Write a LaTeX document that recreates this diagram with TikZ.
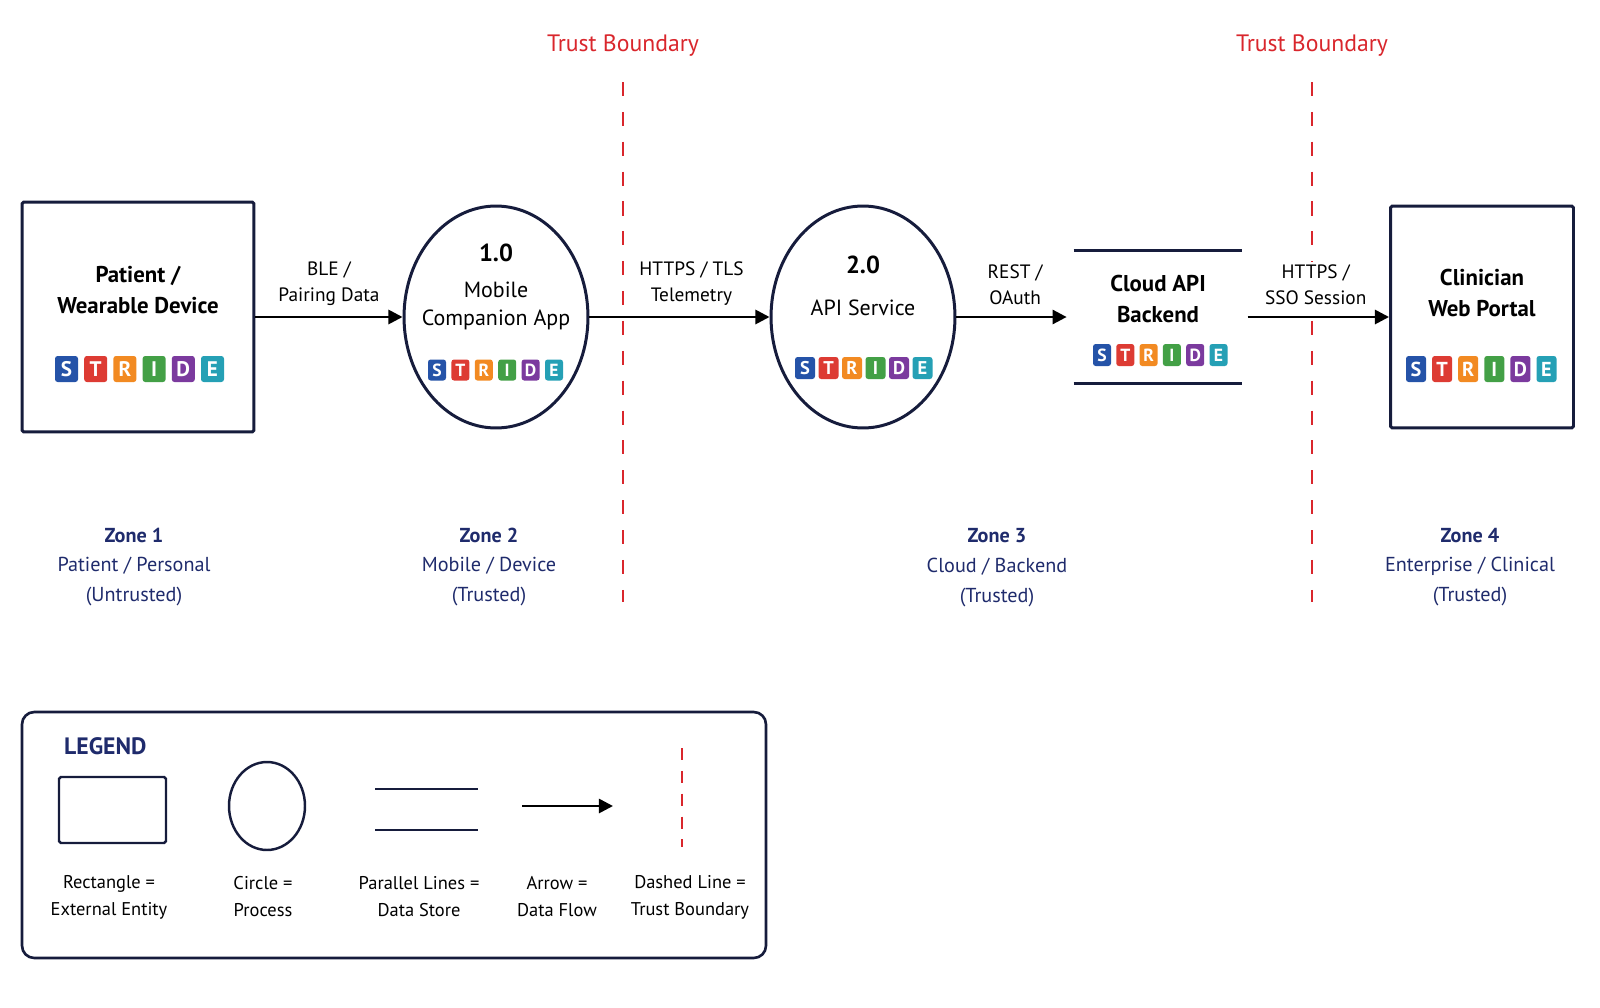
\documentclass[tikz,border=0pt]{standalone}
\usepackage{fontspec}
\setmainfont{PT Sans}
\usetikzlibrary{arrows.meta,shapes.geometric,positioning}

\definecolor{ink}{HTML}{161C3C}
\definecolor{zoneblue}{HTML}{1F2B6C}
\definecolor{trustred}{HTML}{D9262C}
\definecolor{strideS}{HTML}{2553A8}
\definecolor{strideT}{HTML}{DD3B33}
\definecolor{strideR}{HTML}{F28A22}
\definecolor{strideI}{HTML}{43A046}
\definecolor{strideD}{HTML}{7B3A9E}
\definecolor{strideE}{HTML}{25A0B5}

\tikzset{
  entity/.style={draw=ink,line width=1.7pt,rounded corners=1pt},
  process/.style={ellipse,draw=ink,line width=1.7pt,minimum width=3.68cm,minimum height=4.44cm},
  datastore/.style={minimum width=3.36cm,minimum height=2.64cm,inner sep=0pt},
  flow/.style={-{Triangle[length=8pt,width=8pt]},line width=1.5pt,black},
  flowlabel/.style={above=4pt,align=center,fill=white,inner sep=2pt,font=\fontsize{11}{14.8}\selectfont},
  title/.style={align=center,font=\bfseries\fontsize{13}{17.6}\selectfont},
  ptitle/.style={align=center,font=\fontsize{12.5}{16}\selectfont},
  pnum/.style={font=\bfseries\fontsize{14}{16}\selectfont},
  boundary/.style={trustred,line width=1.2pt,dash pattern=on 8pt off 9pt},
  zonetext/.style={align=center,text=zoneblue,font=\fontsize{11.5}{17}\selectfont},
  legendtext/.style={align=center,font=\fontsize{10.5}{15.4}\selectfont},
  badge/.style={rounded corners=1.5pt,text=white,inner sep=0pt},
}

% #1 prefix, #2 x of first badge, #3 y, #4 pitch, #5 width, #6 height, #7 font size (all px but #7)
\newcommand{\stridebar}[7]{%
  \foreach \ltr/\col [count=\k from 0] in {S/strideS,T/strideT,R/strideR,I/strideI,D/strideD,E/strideE}
    \node[badge,fill=\col,minimum width=#5*0.02cm,minimum height=#6*0.02cm,
      font=\bfseries\fontsize{#7}{#7}\selectfont] (#1-\ltr) at ({#2+\k*#4},#3) {\ltr};
}

\begin{document}
\begin{tikzpicture}[x=0.02cm,y=-0.02cm]
  \useasboundingbox (0,0) rectangle (1600,1008);

  % trust boundaries
  \foreach \bx/\bn in {623/tb1,1312/tb2}{
    \coordinate (\bn-top) at (\bx,82);
    \coordinate (\bn-bot) at (\bx,602);
    \draw[boundary] (\bn-top) -- (\bn-bot);
    \node[text=trustred,font=\fontsize{13.5}{16}\selectfont] (\bn-lbl) at (\bx,46) {Trust Boundary};
  }

  % external entities, processes, store
  \node[entity,minimum width=4.64cm,minimum height=4.6cm] (patient) at (138,317) {};
  \node[title] (patient-txt) at (138,290) {Patient /\\Wearable Device};
  \stridebar{patient}{66.5}{369}{29.2}{23}{26}{12}

  \node[process] (app) at (496,317) {};
  \node[pnum] (app-num) at (496,253) {1.0};
  \node[ptitle] (app-txt) at (496,306) {Mobile\\Companion App};
  \stridebar{app}{437}{370}{23.4}{18}{21}{10}

  \node[process] (api) at (863,317) {};
  \node[pnum] (api-num) at (863,265) {2.0};
  \node[ptitle] (api-txt) at (863,308) {API Service};
  \stridebar{api}{805}{368}{23.5}{20}{22}{10.5}

  \node[datastore] (cloud) at (1158,317) {};
  \draw[ink,line width=1.7pt] (cloud.north west) -- (cloud.north east);
  \draw[ink,line width=1.7pt] (cloud.south west) -- (cloud.south east);
  \node[title] (cloud-txt) at (1158,299) {Cloud API\\Backend};
  \stridebar{cloud}{1102}{355}{23.3}{18}{22}{10}

  \node[entity,minimum width=3.66cm,minimum height=4.44cm] (portal) at (1482,317) {};
  \node[title] (portal-txt) at (1482,293) {Clinician\\Web Portal};
  \stridebar{portal}{1416}{369}{26.1}{20}{26}{11.5}

  % data flows
  \draw[flow] (patient) -- (app) node[midway,flowlabel] (lbl-ble) {BLE /\\Pairing Data};
  \draw[flow] (app) -- (api) node[midway,flowlabel,xshift=12*0.02cm] (lbl-tls) {HTTPS / TLS\\Telemetry};
  \draw[flow,shorten >=4pt] (api) -- (cloud) node[midway,flowlabel] (lbl-rest) {REST /\\OAuth};
  \draw[flow,shorten <=3pt] (cloud) -- (portal) node[midway,flowlabel] (lbl-sso) {HTTPS /\\SSO Session};

  % zones
  \node[zonetext] (zone1) at (134,567) {\textbf{Zone 1}\\Patient / Personal\\(Untrusted)};
  \node[zonetext] (zone2) at (489,567) {\textbf{Zone 2}\\Mobile / Device\\(Trusted)};
  \node[zonetext] (zone3) at (997,568) {\textbf{Zone 3}\\Cloud / Backend\\(Trusted)};
  \node[zonetext] (zone4) at (1470,567) {\textbf{Zone 4}\\Enterprise / Clinical\\(Trusted)};

  % legend
  \draw[ink,line width=1.5pt,rounded corners=7pt] (22,712) rectangle (766,958);
  \node[anchor=west,text=zoneblue,font=\bfseries\fontsize{13.5}{16}\selectfont] (legend) at (58,746) {LEGEND};
  \node[entity,line width=1.4pt,minimum width=2.14cm,minimum height=1.32cm] (lg-rect) at (112.5,810) {};
  \node[process,line width=1.4pt,minimum width=1.52cm,minimum height=1.76cm] (lg-proc) at (267,806) {};
  \draw[ink,line width=1.4pt] (375,789) -- (478,789);
  \draw[ink,line width=1.4pt] (375,830) -- (478,830);
  \coordinate (lg-from) at (522,806);
  \coordinate (lg-to) at (613,806);
  \draw[flow] (lg-from) -- (lg-to);
  \coordinate (lg-top) at (682,748);
  \coordinate (lg-bot) at (682,847);
  \draw[boundary,dash pattern=on 7pt off 6pt] (lg-top) -- (lg-bot);
  \node[legendtext] (lg-rect-txt) at (109,897) {Rectangle =\\External Entity};
  \node[legendtext] (lg-proc-txt) at (263,897) {Circle =\\Process};
  \node[legendtext] (lg-store-txt) at (419,897) {Parallel Lines =\\Data Store};
  \node[legendtext] (lg-flow-txt) at (557,897) {Arrow =\\Data Flow};
  \node[legendtext] (lg-tb-txt) at (690,897) {Dashed Line =\\Trust Boundary};
\end{tikzpicture}
\end{document}
